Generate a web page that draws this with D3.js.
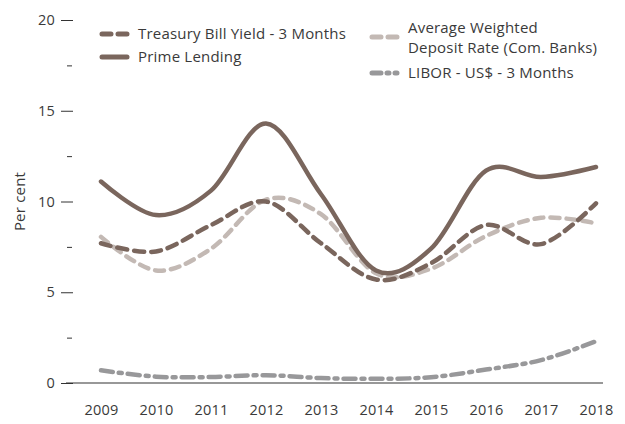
<!DOCTYPE html>
<html><head><meta charset="utf-8">
<script src="https://cdn.jsdelivr.net/npm/d3@7"></script>
<style>
html,body{margin:0;padding:0;background:#fff;}
text{font-family:"Open Sans","Lato",sans-serif;fill:#3a3a3a;letter-spacing:0.2px;}
</style></head>
<body><svg id="c" width="625" height="424"></svg>
<script>
const years = ["2009","2010","2011","2012","2013","2014","2015","2016","2017","2018"];
const treasury = [7.7, 7.25, 8.7, 10.0, 7.7, 5.7, 6.6, 8.7, 7.65, 9.9];
const prime = [11.1, 9.25, 10.6, 14.3, 10.4, 6.2, 7.4, 11.7, 11.35, 11.9];
const deposit = [8.05, 6.2, 7.4, 10.1, 9.3, 6.05, 6.3, 8.1, 9.1, 8.8];
const libor = [0.7, 0.35, 0.33, 0.43, 0.27, 0.23, 0.32, 0.74, 1.26, 2.3];
const majorTicks = [0, 5, 10, 15, 20];
const minorTicks = [2.5, 7.5, 12.5, 17.5];

const svg = d3.select("#c");
const x = d3.scalePoint().domain(years).range([101, 596]);
const y = d3.scaleLinear().domain([0, 20]).range([383, 20]);

const yAxis = d3.axisLeft(y).tickValues(majorTicks).tickSize(12).tickPadding(6);
const gy = svg.append("g").attr("transform","translate(73,0)").call(yAxis);
gy.select(".domain").remove();
gy.selectAll(".tick line").attr("stroke","#333").attr("stroke-width",1);
gy.selectAll(".tick text").style("font-size","14.5px").attr("fill","#3a3a3a");
const yMinor = d3.axisLeft(y).tickValues(minorTicks).tickSize(5).tickFormat("");
const gm = svg.append("g").attr("transform","translate(72,0)").call(yMinor);
gm.select(".domain").remove();
gm.selectAll(".tick line").attr("stroke","#333").attr("stroke-width",1);

const xAxis = d3.axisBottom(x).tickSize(0).tickPadding(22);
const gx = svg.append("g").attr("transform","translate(0,383)").call(xAxis);
gx.select(".domain").remove();
gx.selectAll(".tick text").style("font-size","14.5px").attr("fill","#3a3a3a");
svg.append("line").attr("x1",66).attr("x2",603).attr("y1",y(0)).attr("y2",y(0))
  .attr("stroke","#333").attr("stroke-width",1.2);

svg.append("text").attr("transform","translate(25,"+y(10)+") rotate(-90)")
  .attr("text-anchor","middle").style("font-size","15px").text("Per cent");

const line = d3.line().x((d,i)=>x(years[i])).y(d=>y(d)).curve(d3.curveCardinal.tension(0));
const series = [
  {v: deposit, c:"#c3b9b4", dash:"9,7"},
  {v: libor, c:"#98989a", dash:"12,6,3,6"},
  {v: treasury, c:"#7a665d", dash:"10,7"},
  {v: prime, c:"#7a665d", dash:null}
];
series.forEach(s=>{
  svg.append("path").attr("d", line(s.v)).attr("fill","none")
    .attr("stroke", s.c).attr("stroke-width",4.5)
    .attr("stroke-linecap","round").attr("stroke-linejoin","round")
    .attr("stroke-dasharray", s.dash);
});

const legend = [
  {x:102, y:34, c:"#7a665d", dash:"9,7", lines:["Treasury Bill Yield - 3 Months"]},
  {x:102, y:57, c:"#7a665d", dash:null, lines:["Prime Lending"]},
  {x:372, y:37, c:"#c3b9b4", dash:"9,7", lines:["Average Weighted","Deposit Rate (Com. Banks)"]},
  {x:372, y:73, c:"#98989a", dash:"9,6,2,6", lines:["LIBOR - US$ - 3 Months"]}
];
legend.forEach(l=>{
  svg.append("line").attr("x1",l.x).attr("x2",l.x+25).attr("y1",l.y).attr("y2",l.y)
    .attr("stroke",l.c).attr("stroke-width",5).attr("stroke-linecap","round")
    .attr("stroke-dasharray",l.dash);
  const t = svg.append("text").attr("x", l.x+36).style("font-size","15px");
  if (l.lines.length===1) {
    t.attr("y", l.y+5).text(l.lines[0]);
  } else {
    t.attr("y", l.y-4).text(l.lines[0]);
    svg.append("text").attr("x", l.x+36).attr("y", l.y+16).style("font-size","15px").text(l.lines[1]);
  }
});
</script></body></html>
